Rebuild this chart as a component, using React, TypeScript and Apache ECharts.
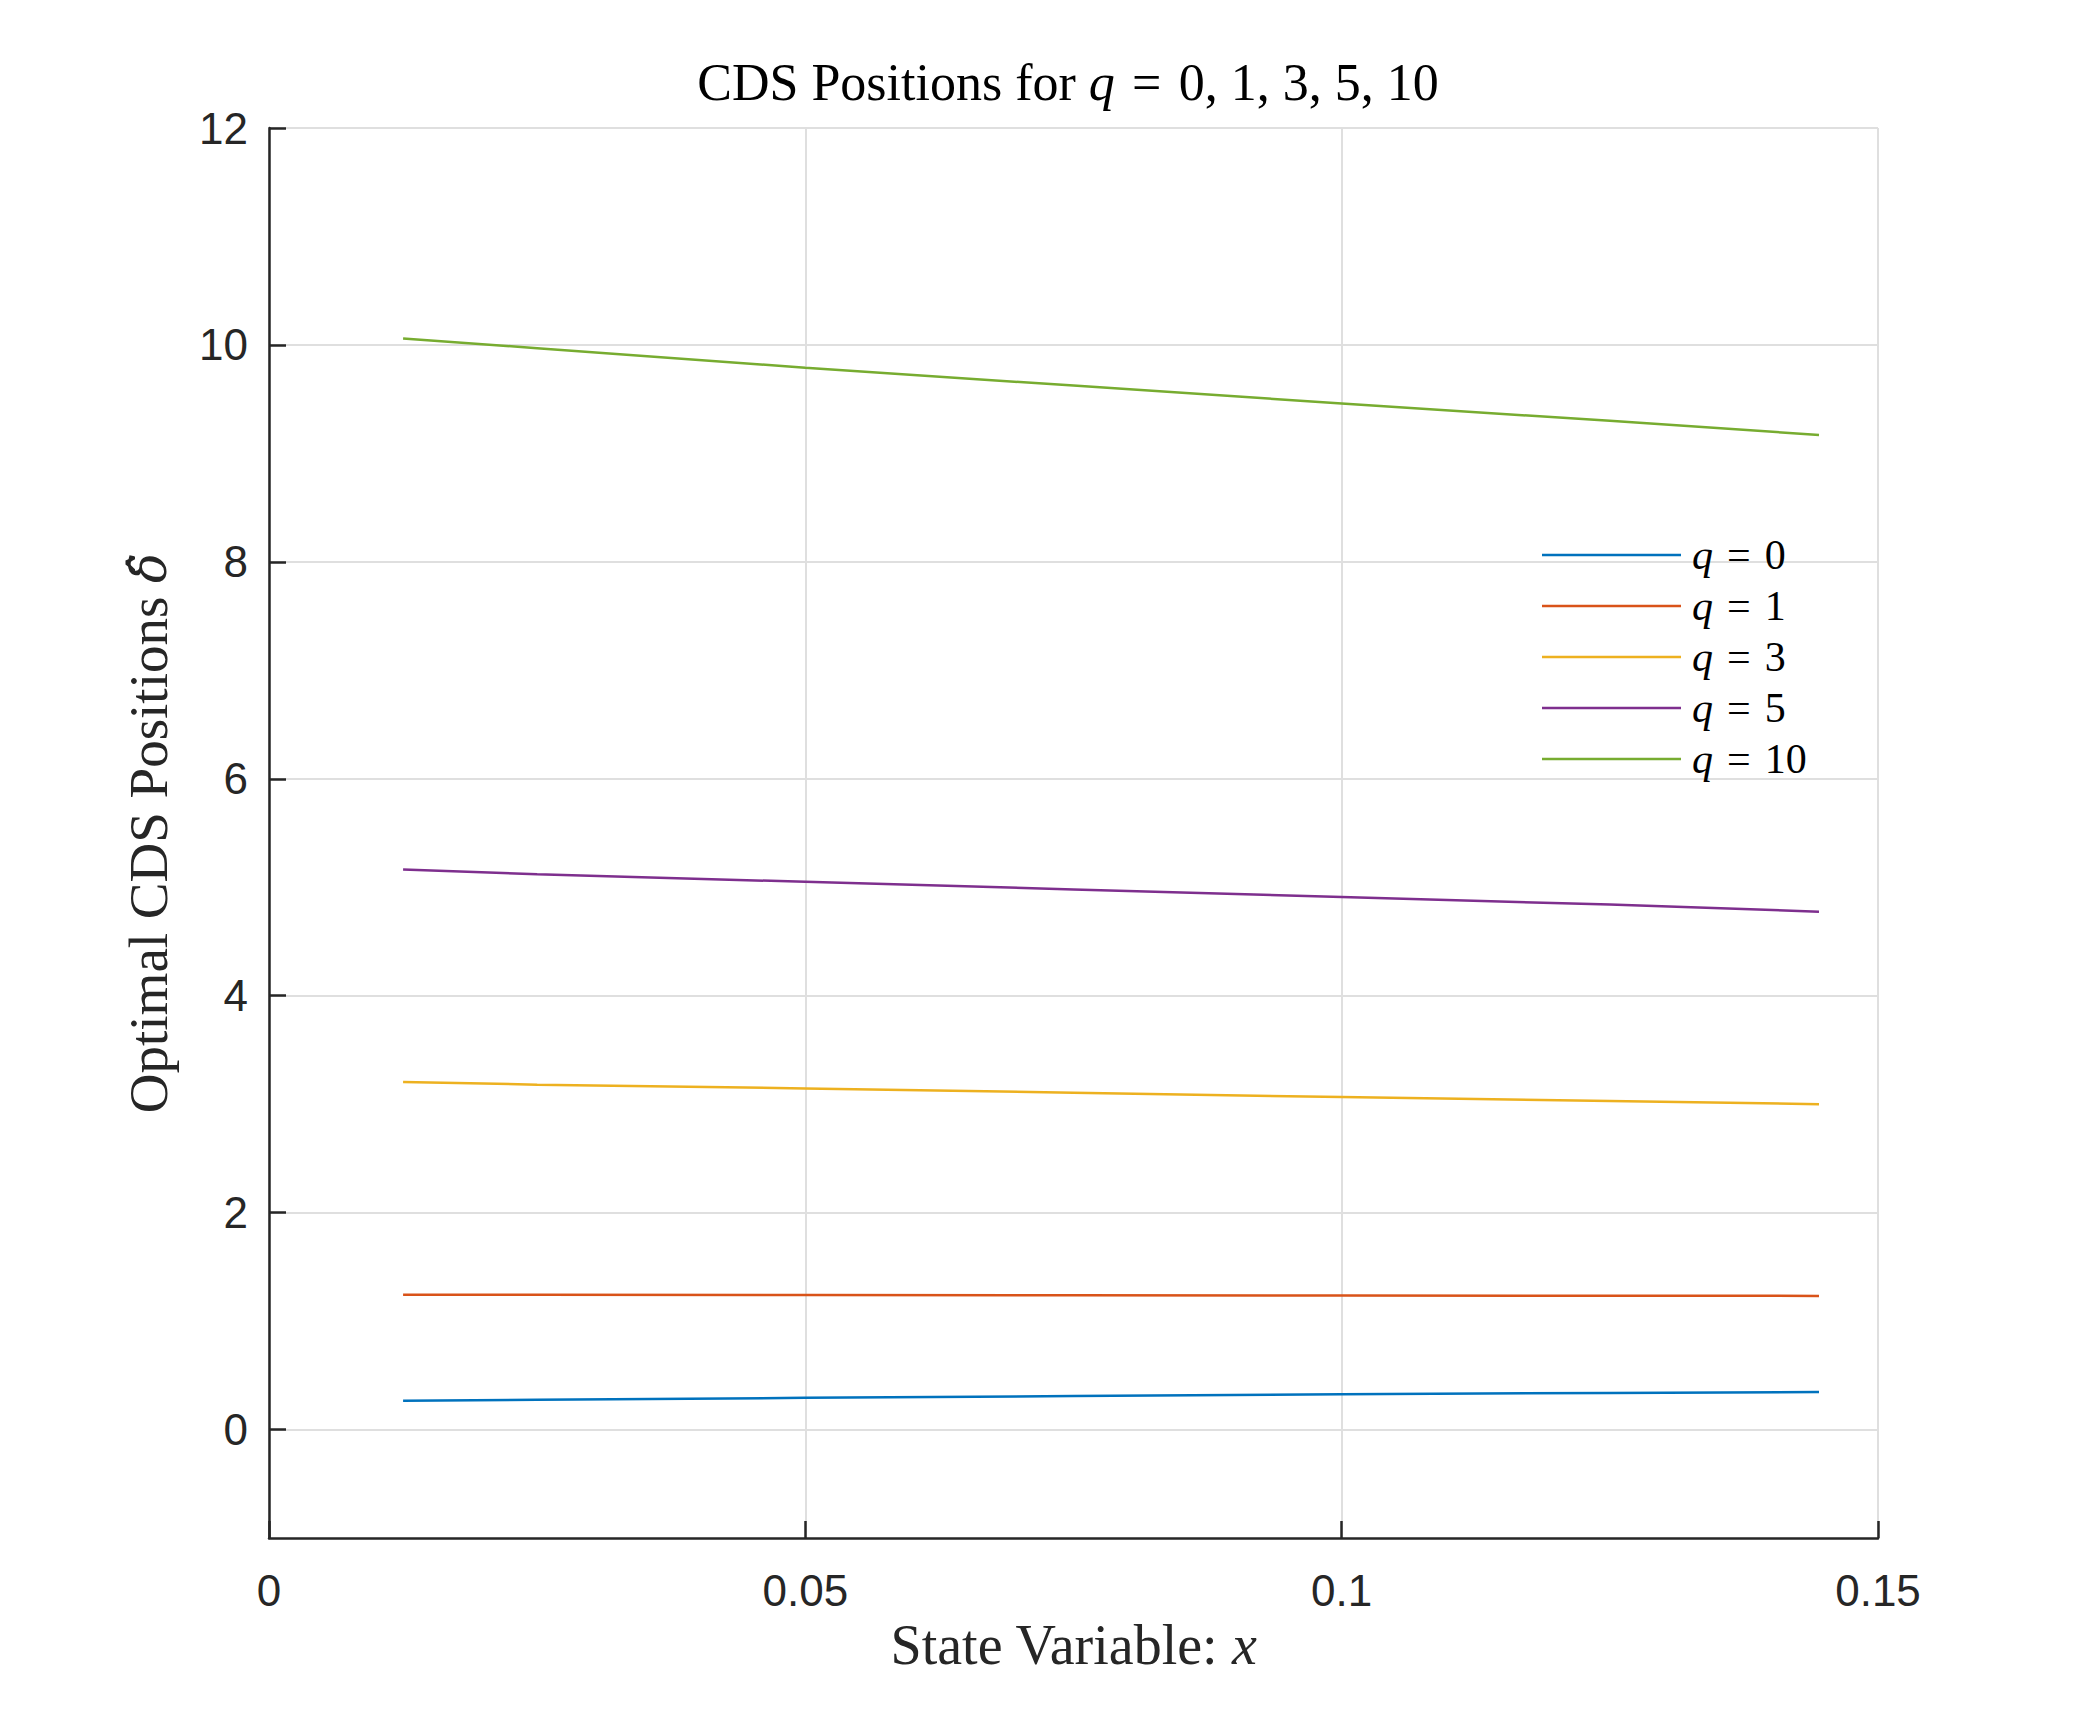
import React, { useEffect, useRef } from "react";
import * as echarts from "echarts";

const xValues = [0.0125, 0.025, 0.05, 0.075, 0.1, 0.125, 0.1445];
const q0 = [0.265, 0.275, 0.292, 0.309, 0.326, 0.337, 0.346];
const q1 = [1.243, 1.242, 1.240, 1.238, 1.236, 1.234, 1.232];
const q3 = [3.205, 3.18, 3.145, 3.105, 3.065, 3.03, 3.0];
const q5 = [5.163, 5.12, 5.05, 4.98, 4.91, 4.84, 4.775];
const q10 = [10.06, 9.97, 9.79, 9.625, 9.46, 9.3, 9.17];

const seriesNames = ["q = 0", "q = 1", "q = 3", "q = 5", "q = 10"];
const seriesValues = [q0, q1, q3, q5, q10];
const colors = ["#0072BD", "#D95319", "#EDB120", "#7E2F8E", "#77AC30"];

const xTicks = [0, 0.05, 0.1, 0.15];
const yTicks = [0, 2, 4, 6, 8, 10, 12];

const SERIF = "'Liberation Serif', 'Times New Roman', serif";
const SANS = "'Liberation Sans', Arial, Helvetica, sans-serif";
const INK = "#262626";
const GRID = "#dfdfdf";
const EQ = "\u2004=\u2004";

export default function App() {
  const ref = useRef<HTMLDivElement>(null);

  useEffect(() => {
    document.body.style.margin = "0";
    if (!ref.current) return;
    const chart = echarts.init(ref.current, undefined, { renderer: "svg" });

    const series = seriesNames.map((name, i) => ({
      name,
      type: "line",
      symbol: "none",
      data: xValues.map((x, j) => [x, seriesValues[i][j]]),
      lineStyle: { color: colors[i], width: 2.5 },
      itemStyle: { color: colors[i] },
    }));

    chart.setOption({
      animation: false,
      backgroundColor: "#ffffff",
      grid: { left: 269, top: 128, right: 197, bottom: 191, containLabel: false },
      xAxis: {
        type: "value",
        min: 0,
        max: 0.15,
        interval: 0.05,
        name: "State Variable: {i|x}",
        nameLocation: "middle",
        nameGap: 78,
        nameTextStyle: {
          fontFamily: SERIF,
          fontSize: 56,
          color: INK,
          rich: { i: { fontFamily: SERIF, fontSize: 56, fontStyle: "italic", color: INK } },
        },
        axisLine: { show: true, onZero: false, lineStyle: { color: INK, width: 2.5 } },
        axisTick: { show: true, inside: true, length: 17, lineStyle: { color: INK, width: 2.5 } },
        axisLabel: {
          fontFamily: SANS,
          fontSize: 44,
          color: INK,
          margin: 30,
          customValues: xTicks,
          formatter: (v: number) => String(v),
        },
        splitLine: { show: true, lineStyle: { color: GRID, width: 2 } },
      },
      yAxis: {
        type: "value",
        min: -1,
        max: 12,
        name: "Optimal CDS Positions {i|\u03B4\u0302}",
        nameLocation: "middle",
        nameRotate: 90,
        nameGap: 93,
        nameTextStyle: {
          fontFamily: SERIF,
          fontSize: 55,
          color: INK,
          rich: { i: { fontFamily: "'DejaVu Serif', serif", fontSize: 50, fontStyle: "italic", color: INK } },
        },
        axisLine: { show: true, onZero: false, lineStyle: { color: INK, width: 2.5 } },
        axisTick: { show: true, inside: true, length: 17, customValues: yTicks, lineStyle: { color: INK, width: 2.5 } },
        axisLabel: {
          fontFamily: SANS,
          fontSize: 44,
          color: INK,
          margin: 21,
          customValues: yTicks,
        },
        splitLine: { show: true, lineStyle: { color: GRID, width: 2 } },
      },
      legend: {
        orient: "vertical",
        left: 1542,
        top: 534,
        padding: 0,
        itemWidth: 139,
        itemHeight: 2.5,
        itemGap: 9,
        icon: "rect",
        data: seriesNames.map((n, i) => ({ name: n, itemStyle: { color: colors[i] } })),
        formatter: (name: string) => "{i|q}{n|" + EQ + name.split("= ")[1] + "}",
        textStyle: {
          padding: [0, 0, 0, 6],
          rich: {
            i: { fontFamily: SERIF, fontSize: 42, fontStyle: "italic", color: "#000", lineHeight: 40 },
            n: { fontFamily: SERIF, fontSize: 42, color: "#000", lineHeight: 40 },
          },
        },
      },
      graphic: [
        {
          type: "text",
          x: 1068,
          y: 56,
          style: {
            text: "{a|CDS Positions for }{i|q}{a|" + EQ + "0, 1, 3, 5, 10}",
            align: "center",
            verticalAlign: "top",
            rich: {
              a: { fontFamily: SERIF, fontSize: 52, color: "#000" },
              i: { fontFamily: SERIF, fontSize: 52, fontStyle: "italic", color: "#000" },
            },
          },
        },
      ],
      series,
    });

    return () => chart.dispose();
  }, []);

  return <div ref={ref} style={{ width: 2075, height: 1729 }} />;
}
